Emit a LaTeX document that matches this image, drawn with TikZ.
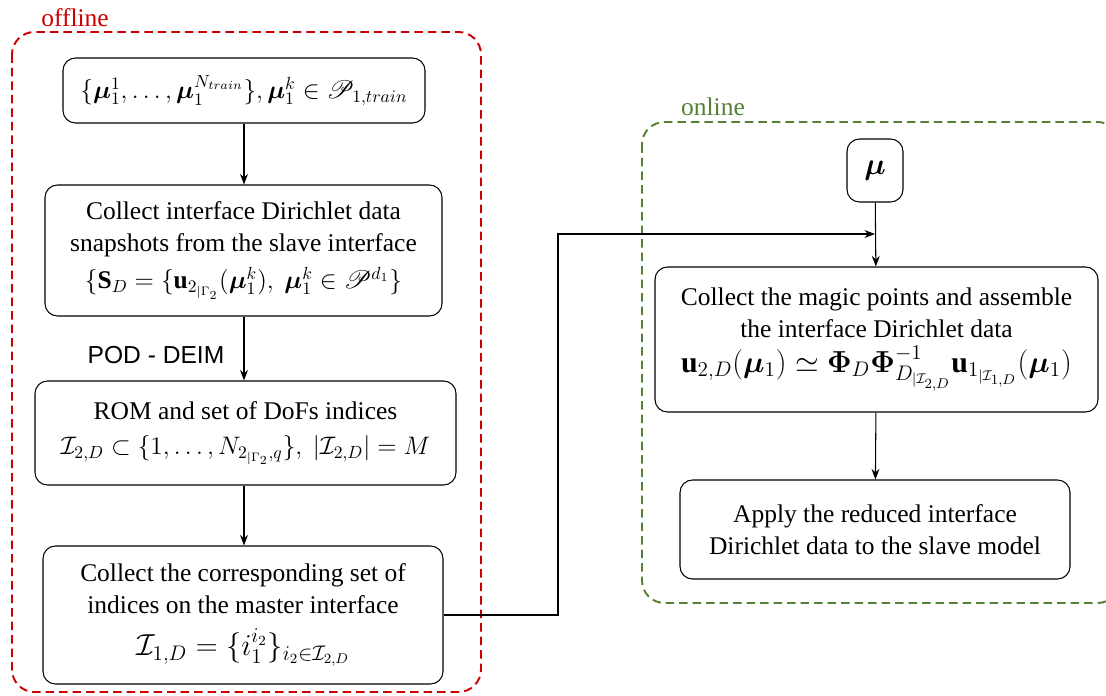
\documentclass[tikz,border=0pt]{standalone}
\usepackage{amsmath,amssymb,bm}
\usepackage{mathrsfs}
\usepackage{fontspec}
\setmainfont{Liberation Serif}
\newfontfamily\arialfont{Liberation Sans}
\usetikzlibrary{arrows.meta}

\definecolor{offred}{RGB}{204,0,0}
\definecolor{ongreen}{RGB}{84,130,53}

\newcommand{\bigmath}{\fontsize{17}{20}\selectfont}

\tikzset{
  block/.style={draw, rounded corners=0.25cm, align=center, line width=0.6pt,
                font=\fontsize{14.5}{18}\selectfont, inner sep=2pt},
  phase/.style={dash pattern=on 0.17cm off 0.1cm, line width=1.1pt, rounded corners=0.45cm},
  flow/.style={-{Stealth[length=6pt,width=4.5pt]}, line width=0.6pt}
}

\begin{document}
\begin{tikzpicture}

   \useasboundingbox (0,0) rectangle (22.12,-13.92);

   % offline and online stages
   \draw [phase, offred] (0.24,-0.64) rectangle (9.62,-13.84);
   \draw [phase, ongreen] (12.84,-2.44) rectangle (22.4,-12.06);
   \node (offline) at (1.5,-0.36) [text=offred, font=\fontsize{14.5}{18}\selectfont] {offline};
   \node (online) at (14.26,-2.14) [text=ongreen, font=\fontsize{14.5}{18}\selectfont] {online};

   % offline chain
   \node (train) at (4.88,-1.81) [block, minimum width=7.24cm, minimum height=1.3cm]
      {$\{\bm{\mu}_1^1,\dots,\bm{\mu}_1^{N_{train}}\}, \bm{\mu}_1^k \in \mathscr{P}_{1,train}$};
   \node (snap) at (4.87,-5.01) [block, minimum width=7.94cm, minimum height=2.62cm]
      {Collect interface Dirichlet data\\ snapshots from the slave interface\\[3pt]
       $\{\mathbf{S}_D=\{\mathbf{u}_{2_{|\Gamma_2}}(\bm{\mu}_1^k),\ \bm{\mu}_1^k\in\mathscr{P}^{d_1}\}$};
   \node (pod) at (3.12,-7.1) [font=\arialfont\fontsize{14}{17}\selectfont] {POD - DEIM};
   \node (rom) at (4.91,-8.66) [block, minimum width=8.42cm, minimum height=2.08cm]
      {ROM and set of DoFs indices\\[2pt]
       $\mathcal{I}_{2,D}\subset\{1,\dots,N_{2_{|\Gamma_2},q}\},\ |\mathcal{I}_{2,D}|=M$};
   \node (master) at (4.86,-12.3) [block, minimum width=8cm, minimum height=2.76cm]
      {Collect the corresponding set of\\ indices on the master interface\\[6pt]
       \bigmath$\mathcal{I}_{1,D}=\{i_1^{i_2}\}_{i_2\in\mathcal{I}_{2,D}}$};

   % online chain
   \node (mu) at (17.5,-3.41) [block, minimum width=1.12cm, minimum height=1.26cm]
      {\fontsize{18}{20}\selectfont$\bm{\mu}$};
   \node (magic) at (17.53,-6.79) [block, minimum width=8.86cm, minimum height=2.9cm]
      {Collect the magic points and assemble\\ the interface Dirichlet data\\[2pt]
       \bigmath$\mathbf{u}_{2,D}(\bm{\mu}_1)\simeq\bm{\Phi}_D\bm{\Phi}^{-1}_{D_{|\mathcal{I}_{2,D}}}\mathbf{u}_{1_{|\mathcal{I}_{1,D}}}(\bm{\mu}_1)$};
   \node (apply) at (17.5,-10.59) [block, minimum width=7.8cm, minimum height=1.98cm]
      {Apply the reduced interface\\ Dirichlet data to the slave model};

   \coordinate (bend) at (11.16,-4.68);
   \coordinate (join) at (17.5,-4.68);

   \draw [flow] (train) -- (train |- snap.north);
   \draw [flow] (snap.south -| train) -- (train |- rom.north);
   \draw [flow] (rom.south -| train) -- (train |- master.north);

   \draw [flow] (mu) -- (magic);
   \draw [flow] (magic) -- (apply);
   \draw [flow] (master.east) -| (bend) -- (join);

\end{tikzpicture}
\end{document}
